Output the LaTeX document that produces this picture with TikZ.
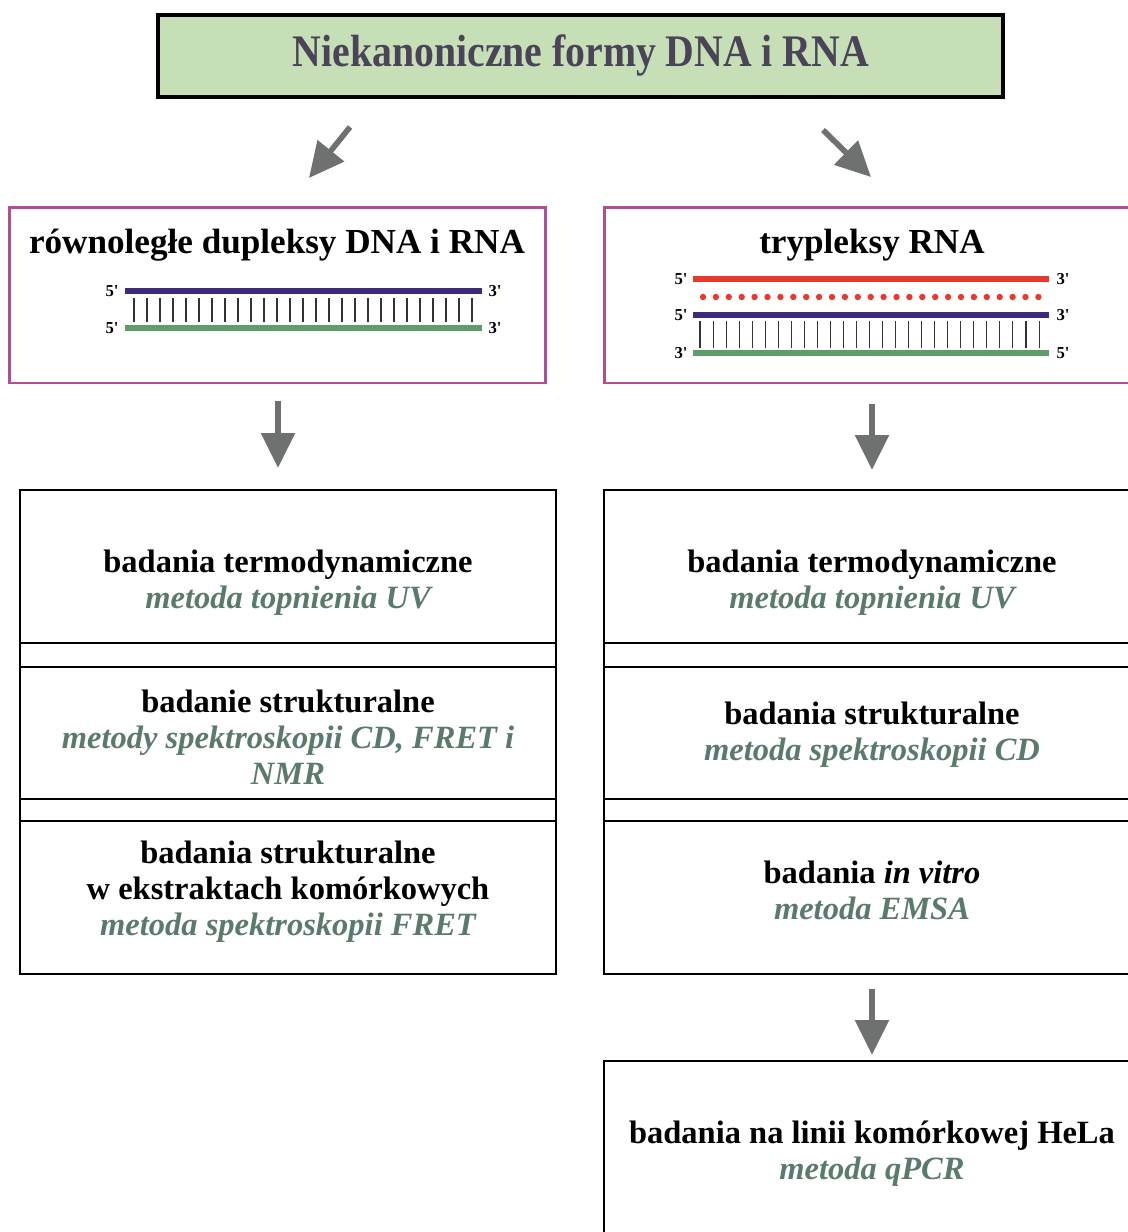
\documentclass[tikz,border=0pt]{standalone}
\usepackage{fontspec}
\usepackage{graphicx}
\setmainfont{Liberation Serif}
\usetikzlibrary{arrows.meta}

\definecolor{titlegreen}{HTML}{C6DFB7}
\definecolor{titleink}{HTML}{4B4459}
\definecolor{framepink}{HTML}{B2508F}
\definecolor{methodgreen}{HTML}{5A7A6B}
\definecolor{arrowgray}{HTML}{6F7171}
\definecolor{strandpurple}{HTML}{3E2A78}
\definecolor{strandgreen}{HTML}{5E9C6C}
\definecolor{strandred}{HTML}{E8392E}

\newcommand{\meth}[1]{{\color{methodgreen}\itshape #1}}
\newcommand{\pr}[1]{#1\textquotesingle}

\tikzset{
    headbox/.style={draw=black, fill=titlegreen, line width=2.2pt, inner sep=0pt},
    pinkbox/.style={draw=framepink, line width=1.7pt, inner sep=0pt},
    cellbox/.style={draw=black, line width=1.6pt, inner sep=0pt},
    boxtitle/.style={font=\fontsize{20}{24}\selectfont\bfseries, inner sep=0pt},
    celltext/.style={font=\fontsize{18.5}{20.4}\selectfont\bfseries, align=center, inner sep=0pt},
    endlabel/.style={font=\fontsize{9.5}{10}\selectfont\bfseries, inner sep=0pt},
    grayarrow/.style={draw=arrowgray, line width=3.2pt, -{Triangle[length=0.7cm, width=0.66cm]}},
    strand/.style={line width=2.9pt},
    pair/.style={draw=black!80, line width=0.6pt},
}

\begin{document}
\begin{tikzpicture}[x=0.02cm, y=-0.02cm]
    \useasboundingbox (0,0) rectangle (1128,1232);

    % Title
    \node[headbox, minimum width=16.9cm, minimum height=1.64cm] (head) at (580.5,56) {};
    \node[font=\fontsize{25.7}{28}\selectfont\bfseries, text=titleink, inner sep=0pt] (headtxt) at (581,55)
        {\scalebox{0.88}[1]{Niekanoniczne formy DNA i RNA}};

    % Arrows from the title
    \coordinate (arrLs) at (350,127);
    \coordinate (arrLe) at (309,178);
    \coordinate (arrRs) at (823,130);
    \coordinate (arrRe) at (871,177);
    \draw[grayarrow] (arrLs) -- (arrLe);
    \draw[grayarrow] (arrRs) -- (arrRe);

    % Left: parallel duplexes
    \node[pinkbox, minimum width=10.74cm, minimum height=3.52cm] (dupbox) at (277.5,295) {};
    \node[boxtitle] (duptitle) at (277,245) {równoległe dupleksy DNA i RNA};
    \draw[strand, strandpurple] (125,291) -- (482,291);
    \draw[strand, strandgreen] (125,328) -- (482,328);
    \foreach \i in {0,...,26}
        \draw[pair] ({134+13*\i},298) -- ({134+13*\i},322);
    \node[endlabel] (d5a) at (112,291) {\pr{5}};
    \node[endlabel] (d3a) at (495,291) {\pr{3}};
    \node[endlabel] (d5b) at (112,328) {\pr{5}};
    \node[endlabel] (d3b) at (495,328) {\pr{3}};

    % Right: RNA triplexes
    \node[pinkbox, minimum width=10.92cm, minimum height=3.52cm] (tribox) at (877,295) {};
    \node[boxtitle] (trititle) at (872,245) {trypleksy RNA};
    \draw[strand, strandred] (693,279) -- (1049,279);
    \foreach \i in {0,...,26}
        \fill[strandred] ({703+12.9*\i},297) circle (3.2);
    \draw[strand, strandpurple] (693,315) -- (1049,315);
    \draw[strand, strandgreen] (693,353) -- (1049,353);
    \foreach \i in {0,...,26}
        \draw[pair] ({700+13.04*\i},321) -- ({700+13.04*\i},348);
    \node[endlabel] (t5a) at (681,279) {\pr{5}};
    \node[endlabel] (t3a) at (1063,279) {\pr{3}};
    \node[endlabel] (t5b) at (681,315) {\pr{5}};
    \node[endlabel] (t3b) at (1063,315) {\pr{3}};
    \node[endlabel] (t3c) at (681,353) {\pr{3}};
    \node[endlabel] (t5c) at (1063,353) {\pr{5}};

    % Down arrows
    \coordinate (downLs) at (278,401);
    \coordinate (downLe) at (278,468);
    \coordinate (downRs) at (872,404);
    \coordinate (downRe) at (872,470);
    \draw[grayarrow] (downLs) -- (downLe);
    \draw[grayarrow] (downRs) -- (downRe);

    % Left column of studies
    \node[cellbox, minimum width=10.72cm, minimum height=9.68cm] (lframe) at (288,732) {};
    \node[cellbox, minimum width=10.72cm, minimum height=3.06cm] (lcell1) at (288,566.5) {};
    \node[cellbox, minimum width=10.72cm, minimum height=2.64cm] (lcell2) at (288,733) {};
    \node[cellbox, minimum width=10.72cm, minimum height=3.06cm] (lcell3) at (288,897.5) {};
    \node[celltext] (ltxt1) at (288,583) {badania termodynamiczne\\ \meth{metoda topnienia UV}};
    \node[celltext] (ltxt2) at (288,737) {badanie strukturalne\\ \meth{metody spektroskopii CD, FRET i}\\ \meth{NMR}};
    \node[celltext] (ltxt3) at (288,892) {badania strukturalne\\ w ekstraktach komórkowych\\ \meth{metoda spektroskopii FRET}};

    % Right column of studies
    \node[cellbox, minimum width=10.92cm, minimum height=9.68cm] (rframe) at (877,732) {};
    \node[cellbox, minimum width=10.92cm, minimum height=3.06cm] (rcell1) at (877,566.5) {};
    \node[cellbox, minimum width=10.92cm, minimum height=2.64cm] (rcell2) at (877,733) {};
    \node[cellbox, minimum width=10.92cm, minimum height=3.06cm] (rcell3) at (877,897.5) {};
    \node[celltext] (rtxt1) at (872,583) {badania termodynamiczne\\ \meth{metoda topnienia UV}};
    \node[celltext] (rtxt2) at (872,735) {badania strukturalne\\ \meth{metoda spektroskopii CD}};
    \node[celltext] (rtxt3) at (872,890) {badania \textit{in vitro}\\ \meth{metoda EMSA}};

    \coordinate (downBs) at (872,989);
    \coordinate (downBe) at (872,1055);
    \draw[grayarrow] (downBs) -- (downBe);

    \node[cellbox, minimum width=10.92cm, minimum height=4.8cm] (hela) at (877,1181) {};
    \node[celltext] (helatxt) at (872,1154) {badania na linii komórkowej HeLa\\ \meth{metoda qPCR}};
\end{tikzpicture}
\end{document}
